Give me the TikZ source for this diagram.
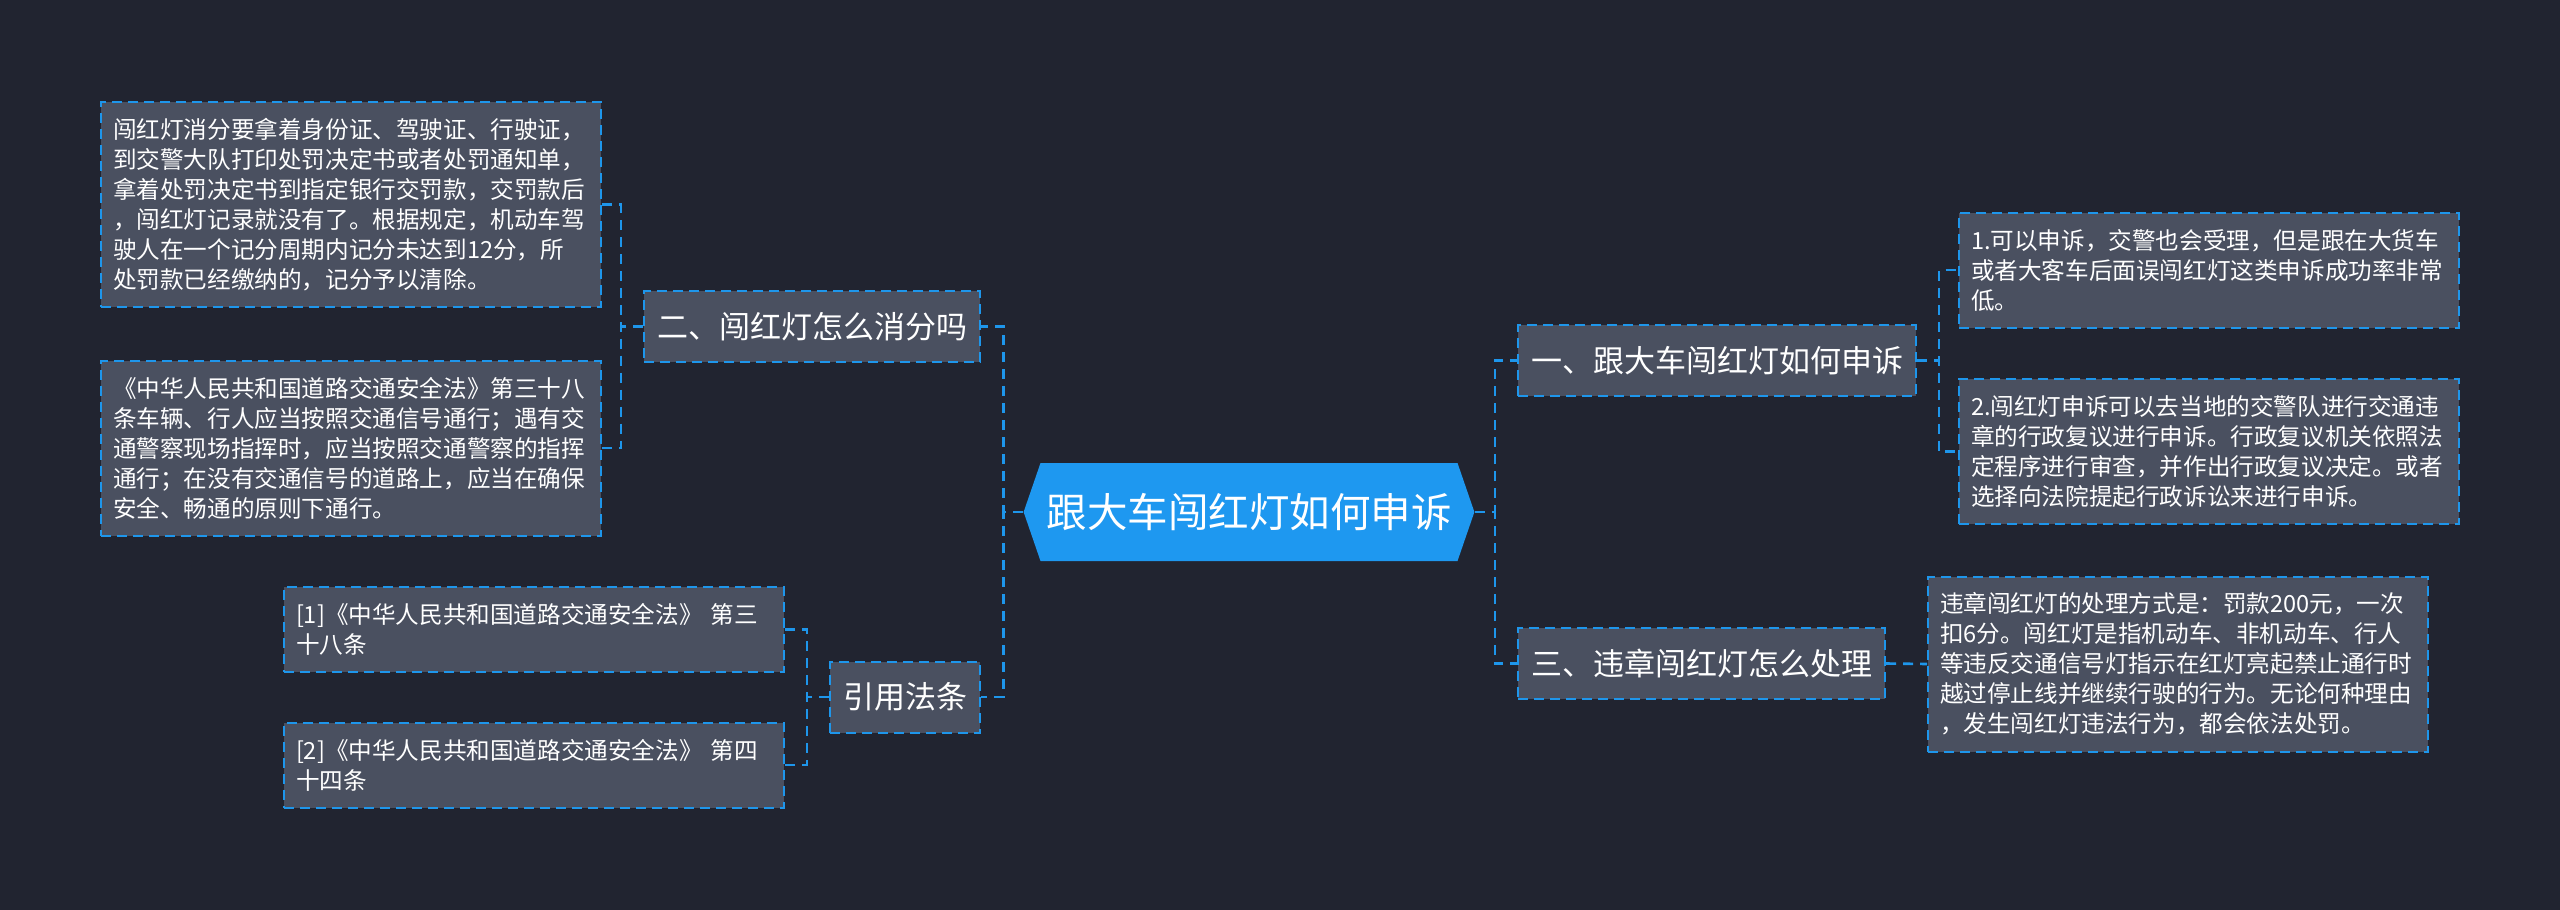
\documentclass[tikz,border=0pt]{standalone}
\usepackage{fontspec}
\setmainfont{Noto Sans CJK SC}
\usepackage{xcolor}
\usepackage{tikz}
\usetikzlibrary{shapes.symbols}

\definecolor{bgdark}{RGB}{33,36,48}
\definecolor{boxgray}{RGB}{74,80,96}
\definecolor{lineblue}{RGB}{30,150,235}
\definecolor{rootblue}{RGB}{30,152,240}

\begin{document}
\begin{tikzpicture}[x=0.5pt, y=-0.5pt,
        main/.style={signal, signal to=east and west, signal pointer angle=142, fill=rootblue, text=white, font=\fontsize{20.25pt}{24pt}\selectfont, minimum height=49pt, inner xsep=3pt},
        sub/.style={draw=lineblue, dash pattern=on 5pt off 3pt, line width=1pt, fill=boxgray, text=white, font=\fontsize{15.5pt}{18pt}\selectfont, minimum height=35.5pt, inner xsep=6.5pt},
        leaf/.style={draw=lineblue, dash pattern=on 5pt off 3pt, line width=1pt, fill=boxgray, text=white, font=\fontsize{11.8pt}{15pt}\selectfont, text width=238pt, align=left, inner xsep=6pt, minimum height=#1*15pt+12.5pt},
        leaf/.default=2,
        link/.style={draw=lineblue, line width=1.3pt, dash pattern=on 5pt off 3.5pt}]
        \fill[bgdark] (0,0) rectangle (2560,910);

        \node[main] (root) at (1249,512) {跟大车闯红灯如何申诉};

        \node[sub, anchor=west] (s1) at (1517,360.5) {一、跟大车闯红灯如何申诉};
        \node[sub, anchor=west] (s3) at (1517,663.5) {三、违章闯红灯怎么处理};
        \node[sub, anchor=east] (s2) at (981,326.5) {二、闯红灯怎么消分吗};
        \node[sub, anchor=east] (s4) at (981,697) {引用法条};

        \node[leaf=3, anchor=west] (r1) at (1958,270) {1.可以申诉，交警也会受理，但是跟在大货车\\或者大客车后面误闯红灯这类申诉成功率非常\\低。};
        \node[leaf=4, anchor=west] (r2) at (1958,451.5) {2.闯红灯申诉可以去当地的交警队进行交通违\\章的行政复议进行申诉。行政复议机关依照法\\定程序进行审查，并作出行政复议决定。或者\\选择向法院提起行政诉讼来进行申诉。};
        \node[leaf=5, anchor=west] (r3) at (1927,664) {违章闯红灯的处理方式是：罚款200元，一次\\扣6分。闯红灯是指机动车、非机动车、行人\\等违反交通信号灯指示在红灯亮起禁止通行时\\越过停止线并继续行驶的行为。无论何种理由\\，发生闯红灯违法行为，都会依法处罚。};
        \node[leaf=6, anchor=east] (lt1) at (602,204.5) {闯红灯消分要拿着身份证、驾驶证、行驶证，\\到交警大队打印处罚决定书或者处罚通知单，\\拿着处罚决定书到指定银行交罚款，交罚款后\\，闯红灯记录就没有了。根据规定，机动车驾\\驶人在一个记分周期内记分未达到12分，所\\处罚款已经缴纳的，记分予以清除。};
        \node[leaf=5, anchor=east] (lt2) at (602,448) {《中华人民共和国道路交通安全法》第三十八\\条车辆、行人应当按照交通信号通行；遇有交\\通警察现场指挥时，应当按照交通警察的指挥\\通行；在没有交通信号的道路上，应当在确保\\安全、畅通的原则下通行。};
        \node[leaf, anchor=east] (c1) at (785,629.5) {[1]《中华人民共和国道路交通安全法》 第三\\十八条};
        \node[leaf, anchor=east] (c2) at (785,765) {[2]《中华人民共和国道路交通安全法》 第四\\十四条};

        \coordinate (rR) at ([xshift=10pt]root.east);
        \coordinate (rL) at ([xshift=-10pt]root.west);
        \coordinate (b1) at ([xshift=11pt]s1.east);
        \coordinate (b2) at ([xshift=-11pt]s2.west);
        \coordinate (b4) at ([xshift=-11pt]s4.west);

        \draw[link] (root.east) -- (rR) |- (s1.west);
        \draw[link] (root.east) -- (rR) |- (s3.west);
        \draw[link] (root.west) -- (rL) |- (s2.east);
        \draw[link] (root.west) -- (rL) |- (s4.east);
        \draw[link] (s1.east) -- (b1) |- (r1.west);
        \draw[link] (s1.east) -- (b1) |- (r2.west);
        \draw[link] (s3.east) -- (r3.west);
        \draw[link] (s2.west) -- (b2) |- (lt1.east);
        \draw[link] (s2.west) -- (b2) |- (lt2.east);
        \draw[link] (s4.west) -- (b4) |- (c1.east);
        \draw[link] (s4.west) -- (b4) |- (c2.east);
\end{tikzpicture}
\end{document}
